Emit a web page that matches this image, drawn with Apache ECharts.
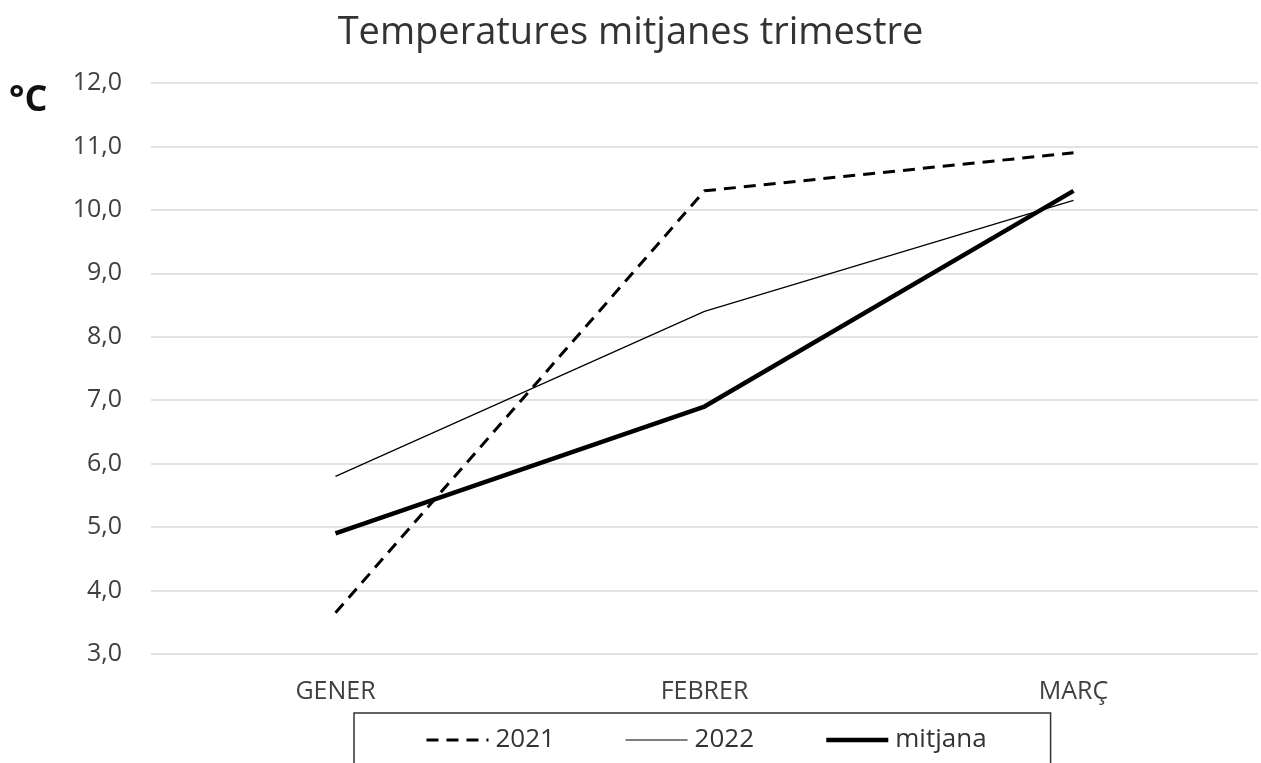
<!DOCTYPE html>
<html>
<head>
<meta charset="utf-8">
<script src="https://cdn.jsdelivr.net/npm/echarts@6/dist/echarts.min.js"></script>
<style>
  html, body { margin: 0; padding: 0; background: #fff; }
  #chart { width: 1261px; height: 763px; }
</style>
</head>
<body>
<div id="chart"></div>
<script>
const months = ['GENER', 'FEBRER', 'MARÇ'];
const temps2021 = [3.65, 10.3, 10.9];
const temps2022 = [5.8, 8.4, 10.15];
const tempsMitjana = [4.9, 6.9, 10.3];

const chart = echarts.init(document.getElementById('chart'));
const font = '"Open Sans", "Noto Sans", sans-serif';

const dash2021 = { color: '#000', width: 3, type: [12, 8] };
const line2022 = { color: '#000', width: 1.2 };
const lineMitjana = { color: '#000', width: 4.5 };

const option = {
  animation: false,
  title: {
    text: 'Temperatures mitjanes trimestre',
    left: 'center',
    top: 9,
    textStyle: { fontFamily: font, fontSize: 38, fontWeight: 'normal', color: '#333' }
  },
  graphic: [{
    type: 'text',
    left: 9,
    top: 83,
    style: { text: '°C', font: 'bold 36px ' + font, fill: '#111' }
  }],
  grid: { left: 151, right: 3, top: 83, bottom: 109 },
  xAxis: {
    type: 'category',
    data: months,
    axisLine: { show: false },
    axisTick: { show: false },
    axisLabel: { fontFamily: font, fontSize: 25, color: '#404040', margin: 25 }
  },
  yAxis: {
    type: 'value',
    min: 3,
    max: 12,
    interval: 1,
    axisLine: { show: false },
    axisTick: { show: false },
    axisLabel: {
      fontFamily: font, fontSize: 25, color: '#404040', margin: 29,
      formatter: v => v.toFixed(1).replace('.', ',')
    },
    splitLine: { lineStyle: { color: '#d9d9d9', width: 1.5 } }
  },
  legend: {
    left: 354,
    top: 713,
    padding: [14, 64, 40, 71],
    borderColor: '#333',
    borderWidth: 1.5,
    itemWidth: 62,
    itemHeight: 26,
    itemGap: 70,
    textStyle: { fontFamily: font, fontSize: 26, color: '#333', padding: [0, 0, 0, 2] },
    data: [
      { name: '2021', lineStyle: dash2021, itemStyle: { opacity: 0 } },
      { name: '2022', lineStyle: line2022, itemStyle: { opacity: 0 } },
      { name: 'mitjana', lineStyle: lineMitjana, itemStyle: { opacity: 0 } }
    ]
  },
  series: [
    {
      name: '2021', type: 'line', data: temps2021, symbol: 'none',
      lineStyle: dash2021, itemStyle: { color: '#000' }
    },
    {
      name: '2022', type: 'line', data: temps2022, symbol: 'none',
      lineStyle: line2022, itemStyle: { color: '#000' }
    },
    {
      name: 'mitjana', type: 'line', data: tempsMitjana, symbol: 'none',
      lineStyle: lineMitjana, itemStyle: { color: '#000' }
    }
  ]
};

chart.setOption(option);
</script>
</body>
</html>
